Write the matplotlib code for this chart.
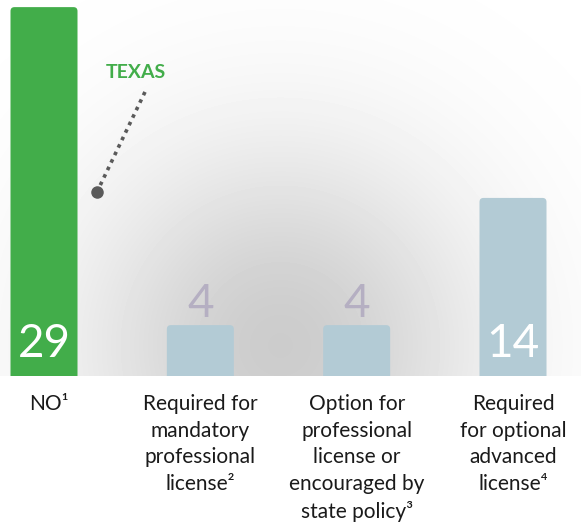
import numpy as np
import matplotlib.pyplot as plt
from matplotlib.patches import FancyBboxPatch

# number of states in each licensing category
categories = ['NO\u00b9',
              'Required for\nmandatory\nprofessional\nlicense\u00b2',
              'Option for\nprofessional\nlicense or\nencouraged by\nstate policy\u00b3',
              'Required\nfor optional\nadvanced\nlicense\u2074']
counts = [29, 4, 4, 14]
bar_colors = ['#42ad4a', '#b3cbd5', '#b3cbd5', '#b3cbd5']
highlight = 'TEXAS'

W, H = 581, 525
fig = plt.figure(figsize=(W / 100, H / 100), dpi=100)

base_px = 376          # baseline of the bars, pixels from top
ax = fig.add_axes([0, (H - base_px) / H, 1, base_px / H])
px_per_unit = 12.72
ax.set_ylim(0, base_px / px_per_unit)
step = 156.33
ax.set_xlim(-44 / step, 3 + (W - 513) / step)
ax.axis('off')

# soft radial shading behind the bars
gx, gy = np.meshgrid(np.arange(W), np.arange(base_px))
r = np.hypot(gx - 280, gy - 345)
shade = 0.80 + 0.20 * (1 - np.exp(-(r / 200) ** 2))
ax.imshow(shade, cmap='gray', vmin=0, vmax=1, aspect='auto',
          extent=[*ax.get_xlim(), 0, base_px / px_per_unit],
          zorder=0, interpolation='bilinear')

xs = np.arange(len(counts))
width = 67 / step
bars = ax.bar(xs, counts, width=width, color=bar_colors, zorder=2)

# swap the plain rectangles for ones with rounded top corners
rad = 4 / step
aspect = step / px_per_unit
for b in bars:
    x0, y0 = b.get_x(), b.get_y()
    w, h = b.get_width(), b.get_height()
    rounded = FancyBboxPatch((x0 + rad, y0 - 1), w - 2 * rad, h + 1 - rad * aspect,
                             boxstyle=f'round,pad={rad}', mutation_aspect=aspect,
                             facecolor=b.get_facecolor(), edgecolor='none',
                             zorder=2)
    b.set_visible(False)
    ax.add_patch(rounded)

num_font = dict(family=['Lato', 'DejaVu Sans'], fontsize=33)
for x, v in zip(xs, counts):
    if v >= 10:
        ax.text(x, 19 / px_per_unit, str(v), ha='center', va='baseline',
                color='white', zorder=3, **num_font)
    else:
        ax.text(x, v + 8 / px_per_unit, str(v), ha='center', va='baseline',
                color='#b5afc2', zorder=3, **num_font)

# callout for the highlighted state
ax.plot([0.646, 0.339], [22.33, 14.47], color='#5a5a5a', lw=2.6,
        linestyle=(0, (1, 1.3)), solid_capstyle='butt', zorder=3)
ax.plot([0.339], [14.47], 'o', color='#5a5a5a', ms=8, zorder=3)
ax.text(0.59, (base_px - 73) / px_per_unit, highlight, ha='center', va='center',
        color='#42ad4a', fontsize=14, fontweight='bold',
        family=['Lato', 'DejaVu Sans'])

# category labels under the baseline
for x, lab in zip(xs, categories):
    xf = (44 + x * step) / W
    fig.text(xf + (0.009 if x == 0 else 0), 1 - 394 / H, lab, ha='center', va='top',
             fontsize=15, color='#1a1a1a', linespacing=1.42,
             family=['Lato', 'DejaVu Sans'])

fig.savefig('out.png', dpi=100, facecolor='white')
